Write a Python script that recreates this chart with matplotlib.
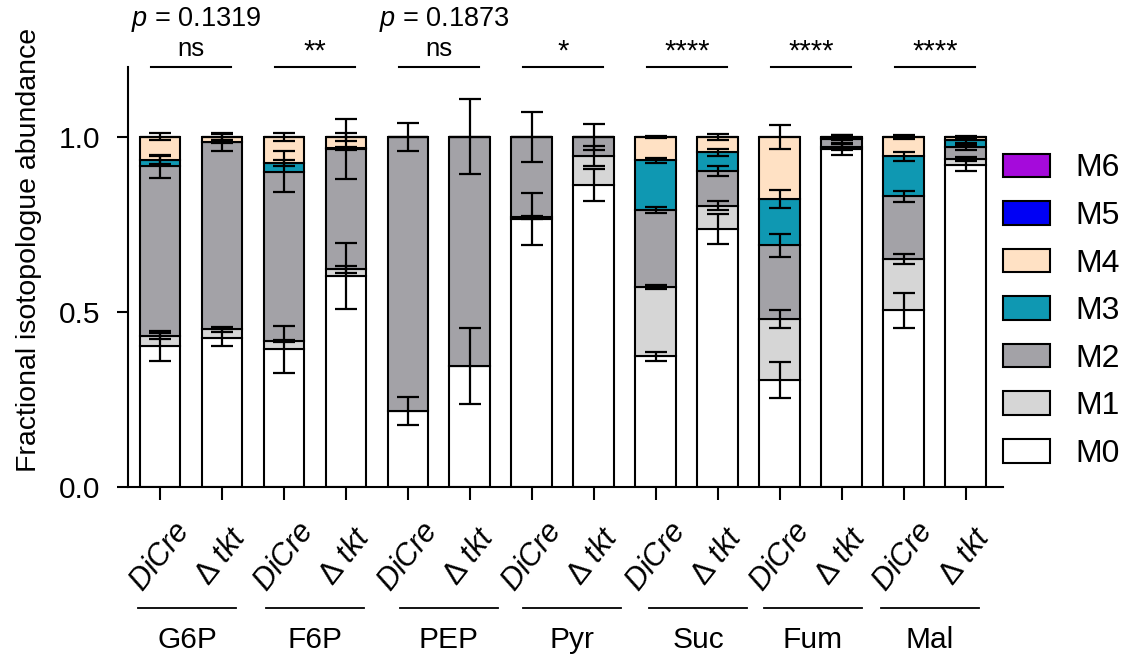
import numpy as np
import matplotlib.pyplot as plt
from matplotlib.patches import Patch

plt.rcParams['font.family'] = ['Liberation Sans', 'DejaVu Sans']
plt.rcParams['mathtext.fontset'] = 'custom'
plt.rcParams['mathtext.rm'] = 'Liberation Sans'
plt.rcParams['mathtext.it'] = 'Liberation Sans:italic'
plt.rcParams['mathtext.bf'] = 'Liberation Sans:bold'

# data
metabolites = ['G6P', 'F6P', 'PEP', 'Pyr', 'Suc', 'Fum', 'Mal']
strain_labels = [r'$\mathit{DiCre}$', r'$\Delta\ \mathit{tkt}$']
significance = ['ns', '**', 'ns', '*', '****', '****', '****']
p_values = ['0.1319', '', '0.1873', '', '', '', '']
isotopologues = ['M0', 'M1', 'M2', 'M3', 'M4', 'M5', 'M6']

# mean fraction per bar, order: G6P DiCre, G6P dtkt, F6P DiCre, ...
m0 = [0.402, 0.427, 0.394, 0.603, 0.216, 0.345, 0.766, 0.863, 0.374, 0.736, 0.305, 0.966, 0.505, 0.920]
m1 = [0.029, 0.023, 0.023, 0.019, 0.000, 0.000, 0.004, 0.082, 0.198, 0.067, 0.174, 0.005, 0.147, 0.017]
m2 = [0.485, 0.535, 0.484, 0.343, 0.784, 0.655, 0.230, 0.055, 0.219, 0.099, 0.211, 0.022, 0.178, 0.033]
m3 = [0.019, 0.002, 0.024, 0.003, 0.000, 0.000, 0.000, 0.000, 0.143, 0.054, 0.132, 0.004, 0.115, 0.020]
m4 = [0.065, 0.013, 0.075, 0.032, 0.000, 0.000, 0.000, 0.000, 0.066, 0.044, 0.178, 0.003, 0.055, 0.010]
m5 = [0.0] * 14
m6 = [0.0] * 14

# standard deviations
sd0 = [0.043, 0.025, 0.067, 0.095, 0.040, 0.108, 0.074, 0.046, 0.013, 0.043, 0.051, 0.018, 0.050, 0.018]
sd1 = [0.008, 0.006, 0.004, 0.010, 0.000, 0.000, 0.003, 0.029, 0.005, 0.013, 0.026, 0.008, 0.014, 0.005]
sd2 = [0.032, 0.025, 0.059, 0.085, 0.040, 0.107, 0.071, 0.037, 0.008, 0.014, 0.032, 0.012, 0.017, 0.006]
sd3 = [0.012, 0.004, 0.008, 0.004, 0.000, 0.000, 0.000, 0.000, 0.007, 0.010, 0.026, 0.006, 0.013, 0.006]
sd4 = [0.010, 0.008, 0.012, 0.012, 0.000, 0.000, 0.000, 0.000, 0.004, 0.008, 0.033, 0.006, 0.006, 0.004]
sd5 = [0.0] * 14
sd6 = [0.0] * 14

colors = ['#FFFFFF', '#D6D6D6', '#A3A2A7', '#0F98B2', '#FFE1C4', '#0000F5', '#A50ADB']

means = [m0, m1, m2, m3, m4, m5, m6]
sds = [sd0, sd1, sd2, sd3, sd4, sd5, sd6]

fig = plt.figure(figsize=(11.26, 6.57), dpi=100)
ax = fig.add_axes([0.1137, 0.2588, 0.7771, 0.6393])

x = np.arange(len(m0))
bottom = np.zeros(len(m0))
tops = []
for vals, c in zip(means, colors):
    vals = np.array(vals)
    ax.bar(x, vals, width=0.66, bottom=bottom, color=c, edgecolor='black', linewidth=1.5, zorder=2)
    bottom = bottom + vals
    tops.append(bottom.copy())

for top, sd in zip(tops, sds):
    sd = np.array(sd)
    keep = sd > 0
    if keep.any():
        ax.errorbar(x[keep], top[keep], yerr=sd[keep], fmt='none', ecolor='black',
                    elinewidth=1.6, capsize=8, capthick=1.6, zorder=3)

ax.set_xlim(-0.516, 13.6)
ax.set_ylim(0, 1.2)
ax.set_yticks([0, 0.5, 1.0])
ax.set_yticklabels(['0.0', '0.5', '1.0'], fontsize=21.5)
ax.set_xticks(x)
ax.set_xticklabels(strain_labels * len(metabolites), fontsize=22, rotation=52,
                   ha='center', va='center')
ax.tick_params(axis='x', length=9, width=1.5, pad=41)
ax.tick_params(axis='y', length=8, width=1.5, pad=12)
for s in ['top', 'right']:
    ax.spines[s].set_visible(False)
for s in ['left', 'bottom']:
    ax.spines[s].set_linewidth(1.5)

fig.text(0.026, 0.62, 'Fractional isotopologue abundance', rotation=90,
         ha='center', va='center', fontsize=20.5)

# group labels under the axis and significance marks above
group_nudge = [-0.06, 0.0, 0.16, 0.15, 0.18, 0.03, -0.08]
for i, name in enumerate(metabolites):
    c = 2 * i + 0.5
    g = c + group_nudge[i]
    ax.plot([g - 0.79, g + 0.79], [-0.347, -0.347], color='black', lw=1.3, clip_on=False)
    ax.text(g, -0.461, name, ha='center', va='baseline', fontsize=21.5)
    ax.plot([c - 0.64, c + 0.64], [1.2, 1.2], color='black', lw=1.5, clip_on=False)
    if significance[i] == 'ns':
        ax.text(c, 1.232, 'ns', ha='center', va='baseline', fontsize=18.5)
    else:
        ax.text(c, 1.245, significance[i], ha='center', va='center', fontsize=21)
    if p_values[i]:
        ax.text(c + 0.09, 1.316, r'$\mathit{p}$ = ' + p_values[i], ha='center',
                va='baseline', fontsize=19.5)

handles = [Patch(facecolor=c, edgecolor='black', linewidth=1.5, label=l)
           for c, l in zip(colors, isotopologues)][::-1]
ax.legend(handles=handles, loc='upper left', bbox_to_anchor=(1.0, 0.794), frameon=False,
          fontsize=23, handlelength=1.48, handleheight=0.76, labelspacing=0.55,
          handletextpad=0.8, borderpad=0, borderaxespad=0)

fig.savefig('out.png', dpi=100)
